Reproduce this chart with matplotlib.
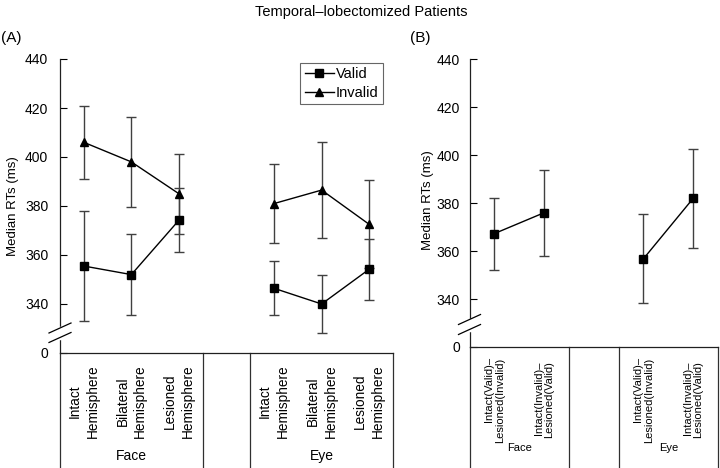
import matplotlib
matplotlib.use("Agg")
import matplotlib.pyplot as plt
from matplotlib.lines import Line2D

plt.rcParams['font.family'] = ['Liberation Sans', 'DejaVu Sans']

# ---------------- data ----------------
groups = ["Face", "Eye"]
left_conditions = ["Intact\nHemisphere", "Bilateral\nHemisphere", "Lesioned\nHemisphere"]
series_names = ["Valid", "Invalid"]

face_valid = [355.5, 352.0, 374.2]
face_valid_err = [22.5, 16.5, 13.0]
face_invalid = [406.0, 398.0, 385.0]
face_invalid_err = [15.0, 18.5, 16.3]

eye_valid = [346.4, 340.0, 354.2]
eye_valid_err = [11.0, 12.0, 12.5]
eye_invalid = [381.0, 386.5, 372.5]
eye_invalid_err = [16.0, 19.5, 18.0]

right_conditions = ["Intact(Valid)\u2013\nLesioned(Invalid)", "Intact(Invalid)\u2013\nLesioned(Valid)"]
right_face = [367.3, 376.0]
right_face_err = [15.0, 18.0]
right_eye = [356.8, 382.0]
right_eye_err = [18.5, 20.5]

yticks = [320, 340, 360, 380, 400, 420, 440]
yticklabels = ["0", "340", "360", "380", "400", "420", "440"]

W, H = 720, 468
fig = plt.figure(figsize=(W / 100, H / 100), dpi=100)

def px_axes(x0, y_top, x1, y_bot):
    return fig.add_axes([x0 / W, (H - y_bot) / H, (x1 - x0) / W, (y_bot - y_top) / H])

axA = px_axes(60, 59, 393, 353)
axB = px_axes(469.5, 59.3, 718, 347)

ERR_COLOR = "#404040"

def style_axis(ax, xlim, pad):
    ax.set_xlim(*xlim)
    ax.set_ylim(320, 440)
    ax.set_yticks(yticks)
    ax.set_yticklabels(yticklabels)
    ax.set_xticks([])
    ax.tick_params(axis='y', direction='in', length=5, width=0.8, labelsize=10, pad=pad)
    for s in ["top", "right"]:
        ax.spines[s].set_visible(False)
    for s in ["left", "bottom"]:
        ax.spines[s].set_linewidth(0.9)
        ax.spines[s].set_color('#202020')
    ax.set_ylabel("Median RTs (ms)", fontsize=9.5)

def break_marks(ax, centers_px_above_bottom):
    bbox = ax.get_position()
    axw = bbox.width * W
    axh = bbox.height * H
    dx = 11 / axw
    dy = 5 / axh
    c0, c1 = sorted(centers_px_above_bottom)
    # white gap in the spine between the two slashes
    ax.plot([0, 0], [c0 / axh, c1 / axh], transform=ax.transAxes, color='white',
            lw=2.5, clip_on=False, zorder=5)
    for c in centers_px_above_bottom:
        yc = c / axh
        ax.plot([-dx, dx], [yc - dy, yc + dy], transform=ax.transAxes,
                color='black', lw=0.9, clip_on=False, zorder=6)

def table_lines(ax, xs, depth=-0.6):
    tr = ax.get_xaxis_transform()
    for x in xs:
        ax.add_line(Line2D([x, x], [0, depth], transform=tr, color='#303030',
                           lw=0.9, clip_on=False))

# ---------------- panel A ----------------
style_axis(axA, (-0.5, 6.5), pad=8.5)
axA.yaxis.set_label_coords(-0.123, 0.5)

face_x = [0, 1, 2]
eye_x = [4, 5, 6]
mk = dict(color='black', lw=1.0, markersize=5.8, capsize=3.8,
          ecolor=ERR_COLOR, elinewidth=1.0, capthick=1.0, zorder=3)

for xs, vals, errs in [(face_x, face_valid, face_valid_err), (eye_x, eye_valid, eye_valid_err)]:
    axA.errorbar(xs, vals, yerr=errs, marker='s', **mk)
for xs, vals, errs in [(face_x, face_invalid, face_invalid_err), (eye_x, eye_invalid, eye_invalid_err)]:
    axA.errorbar(xs, vals, yerr=errs, marker='^', **mk)

handles = [Line2D([], [], color='black', lw=1.0, marker='s', markersize=5.8),
           Line2D([], [], color='black', lw=1.0, marker='^', markersize=5.8)]
leg = axA.legend(handles, series_names, loc='upper right', bbox_to_anchor=(0.97, 0.988),
                 fontsize=10.5, frameon=True, fancybox=False, handlelength=2.0,
                 handletextpad=0.15, borderpad=0.3, labelspacing=0.35, borderaxespad=0)
leg.get_frame().set_edgecolor(ERR_COLOR)
leg.get_frame().set_linewidth(0.8)

break_marks(axA, [15.5, 25])
table_lines(axA, [-0.5, 2.5, 3.5, 6.5])

trA = axA.get_xaxis_transform()
for xs in (face_x, eye_x):
    for x, lab in zip(xs, left_conditions):
        axA.text(x, -0.163, lab, transform=trA, rotation=90, ha='center', va='center',
                 multialignment='center', fontsize=9.8, linespacing=1.35)
for xs, g in zip((face_x, eye_x), groups):
    axA.text(sum(xs) / len(xs), -0.35, g, transform=trA, ha='center', va='center', fontsize=10)

# ---------------- panel B ----------------
style_axis(axB, (-0.5, 4.5), pad=7)
axB.yaxis.set_label_coords(-0.143, 0.509)

rface_x = [0, 1]
reye_x = [3, 4]
axB.errorbar(rface_x, right_face, yerr=right_face_err, marker='s', **mk)
axB.errorbar(reye_x, right_eye, yerr=right_eye_err, marker='s', **mk)

break_marks(axB, [17.5, 27.5])
table_lines(axB, [-0.5, 1.5, 2.5, 4.5])

trB = axB.get_xaxis_transform()
for xs in (rface_x, reye_x):
    for x, lab in zip(xs, right_conditions):
        axB.text(x, -0.184, lab, transform=trB, rotation=90, ha='center', va='center',
                 multialignment='right', fontsize=8, linespacing=1.1)
for xs, g in zip((rface_x, reye_x), groups):
    axB.text(sum(xs) / len(xs), -0.35, g, transform=trB, ha='center', va='center', fontsize=8)

# ---------------- titles ----------------
fig.text(361 / W, 1 - 12 / H, "Temporal\u2013lobectomized Patients", ha='center', va='center', fontsize=10.5)
fig.text(1 / W, 1 - 38 / H, "(A)", ha='left', va='center', fontsize=11)
fig.text(410 / W, 1 - 38 / H, "(B)", ha='left', va='center', fontsize=11)

fig.savefig("out.png", dpi=100)
